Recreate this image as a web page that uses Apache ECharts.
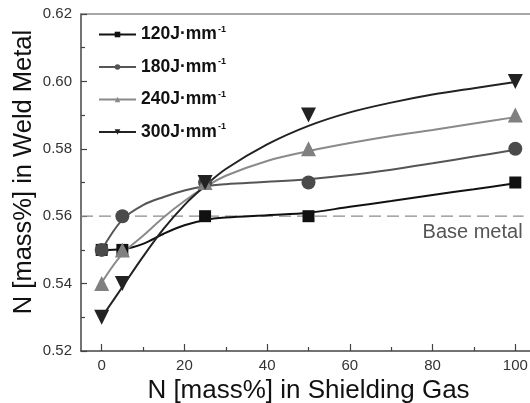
<!DOCTYPE html>
<html>
<head>
<meta charset="utf-8">
<script src="https://cdn.jsdelivr.net/npm/echarts@6/dist/echarts.min.js"></script>
<style>
  html, body { margin: 0; padding: 0; background: #fff; }
  #chart { width: 530px; height: 403px; }
</style>
</head>
<body>
<div id="chart"></div>
<script>
// Measured points: N in shielding gas (mass%) vs N in weld metal (mass%)
const gasN = [0, 5, 25, 50, 100];
const n120 = [0.55, 0.55, 0.56, 0.56, 0.57];
const n180 = [0.55, 0.56, 0.57, 0.57, 0.58];
const n240 = [0.54, 0.55, 0.57, 0.58, 0.59];
const n300 = [0.53, 0.54, 0.57, 0.59, 0.60];

// Fitted trend curves
const fitX   = [0, 5, 10, 15, 20, 25, 30, 40, 50, 60, 70, 80, 90, 100];
const fit120 = [0.5500, 0.5502, 0.5518, 0.5548, 0.5573, 0.5589, 0.5596, 0.5603, 0.5610, 0.5628, 0.5645, 0.5663, 0.5680, 0.5698];
const fit180 = [0.5500, 0.5590, 0.5633, 0.5657, 0.5676, 0.5689, 0.5695, 0.5702, 0.5710, 0.5722, 0.5738, 0.5757, 0.5777, 0.5797];
const fit240 = [0.5403, 0.5488, 0.5542, 0.5597, 0.5645, 0.5686, 0.5720, 0.5764, 0.5793, 0.5817, 0.5838, 0.5856, 0.5875, 0.5894];
const fit300 = [0.5300, 0.5390, 0.5480, 0.5563, 0.5633, 0.5690, 0.5740, 0.5813, 0.5868, 0.5908, 0.5937, 0.5961, 0.5980, 0.5998];

const baseMetal = 0.56;
const xMajorTicks = [0, 20, 40, 60, 80, 100];
const xMinorTicks = [10, 30, 50, 70, 90];

const seriesDefs = [
  { name: '120J·mm', pts: n120, fit: fit120, symbol: 'rect',     size: 12, rotate: 0,   line: '#111111', mark: '#111111' },
  { name: '180J·mm', pts: n180, fit: fit180, symbol: 'circle',   size: 14, rotate: 0,   line: '#555555', mark: '#4a4a4a' },
  { name: '240J·mm', pts: n240, fit: fit240, symbol: 'triangle', size: 15, rotate: 0,   line: '#8a8a8a', mark: '#808080' },
  { name: '300J·mm', pts: n300, fit: fit300, symbol: 'triangle', size: 15, rotate: 180, line: '#222222', mark: '#222222' }
];

const FONT = '"Liberation Sans", Arial, sans-serif';
const pair = (xs, ys) => xs.map((x, i) => [x, ys[i]]);

const series = [];
seriesDefs.forEach(d => {
  series.push({
    name: d.name, type: 'line', data: pair(fitX, d.fit),
    smooth: 0.35,
    symbol: d.symbol, symbolRotate: d.rotate, showSymbol: false,
    lineStyle: { color: d.line, width: 2 }, itemStyle: { color: d.line },
    z: 2, silent: true
  });
});
seriesDefs.forEach(d => {
  series.push({
    name: d.name + '_pts', type: 'scatter', data: pair(gasN, d.pts),
    symbol: d.symbol, symbolSize: d.size, symbolRotate: d.rotate,
    itemStyle: { color: d.mark, opacity: 1 }, z: 4, silent: true
  });
});
// Base-metal reference level
series.push({
  name: 'base', type: 'line', data: [[-5, baseMetal], [102, baseMetal]],
  symbol: 'none', silent: true, z: 1,
  lineStyle: { color: '#8c8c8c', width: 1.2, type: [12, 6] }
});

const chart = echarts.init(document.getElementById('chart'), null, { renderer: 'canvas' });
chart.setOption({
  animation: false,
  backgroundColor: '#ffffff',
  grid: { left: 81, top: 14, width: 455, height: 337, outerBoundsMode: 'none', containLabel: false },
  legend: {
    data: seriesDefs.map(d => d.name),
    orient: 'vertical', left: 93, top: 20,
    itemWidth: 37, itemHeight: 7, itemGap: 14,
    formatter: n => '{m|' + n + '}{s|-1}',
    textStyle: {
      rich: {
        m: { fontFamily: FONT, fontWeight: 'bold', fontSize: 17.5, color: '#111', lineHeight: 19 },
        s: { fontFamily: FONT, fontWeight: 'bold', fontSize: 9, color: '#111', verticalAlign: 'top', lineHeight: 19, padding: [0, 0, 0, 1] }
      }
    }
  },
  xAxis: [
    {
      type: 'value', min: -5, max: 105,
      name: 'N [mass%] in Shielding Gas', nameLocation: 'middle', nameGap: 22,
      nameTextStyle: { fontFamily: FONT, fontSize: 26, color: '#111', verticalAlign: 'top' },
      axisLine: { show: true, onZero: false, lineStyle: { color: '#444', width: 1.5 } },
      axisTick: { show: true, inside: true, length: 7, customValues: xMajorTicks, lineStyle: { color: '#444', width: 1.2 } },
      axisLabel: { customValues: xMajorTicks, fontFamily: FONT, fontSize: 15, color: '#333', margin: 7 },
      splitLine: { show: false }
    },
    {
      type: 'value', min: -5, max: 105, position: 'bottom',
      axisLine: { show: false, onZero: false },
      axisTick: { show: true, inside: true, length: 4, customValues: xMinorTicks, lineStyle: { color: '#444', width: 1.2 } },
      axisLabel: { show: false }, splitLine: { show: false }
    },
    {
      type: 'value', min: -5, max: 105, position: 'top',
      axisLine: { show: true, onZero: false, lineStyle: { color: '#8a8a8a', width: 1.5 } },
      axisTick: { show: false }, axisLabel: { show: false }, splitLine: { show: false }
    }
  ],
  yAxis: {
    type: 'value', min: 0.52, max: 0.62, interval: 0.02,
    axisLine: { show: true, onZero: false, lineStyle: { color: '#444', width: 1.5 } },
    axisTick: { show: true, inside: true, length: 6, lineStyle: { color: '#444', width: 1.2 } },
    minorTick: { show: true, splitNumber: 2, length: 4, lineStyle: { color: '#444', width: 1.2 } },
    axisLabel: { fontFamily: FONT, fontSize: 15, color: '#333', margin: 9, formatter: v => v.toFixed(2) },
    splitLine: { show: false }
  },
  series: series,
  graphic: [{
    // vertical axis title
    type: 'text', x: 24, y: 172, rotation: Math.PI / 2,
    style: { text: 'N [mass%] in Weld Metal', font: '25.5px ' + FONT, fill: '#111', align: 'center', verticalAlign: 'middle' }
  }]
});

// "Base metal" caption under the reference line
const p = chart.convertToPixel({ xAxisIndex: 0, yAxisIndex: 0 }, [102, baseMetal]);
chart.setOption({
  graphic: [{
    type: 'text', x: 24, y: 172, rotation: Math.PI / 2,
    style: { text: 'N [mass%] in Weld Metal', font: '25.5px ' + FONT, fill: '#111', align: 'center', verticalAlign: 'middle' }
  }, {
    type: 'text', x: p[0] - 1, y: p[1] + 6,
    style: { text: 'Base metal', font: '20px ' + FONT, fill: '#555', align: 'right', verticalAlign: 'top' }
  }]
});
</script>
</body>
</html>
